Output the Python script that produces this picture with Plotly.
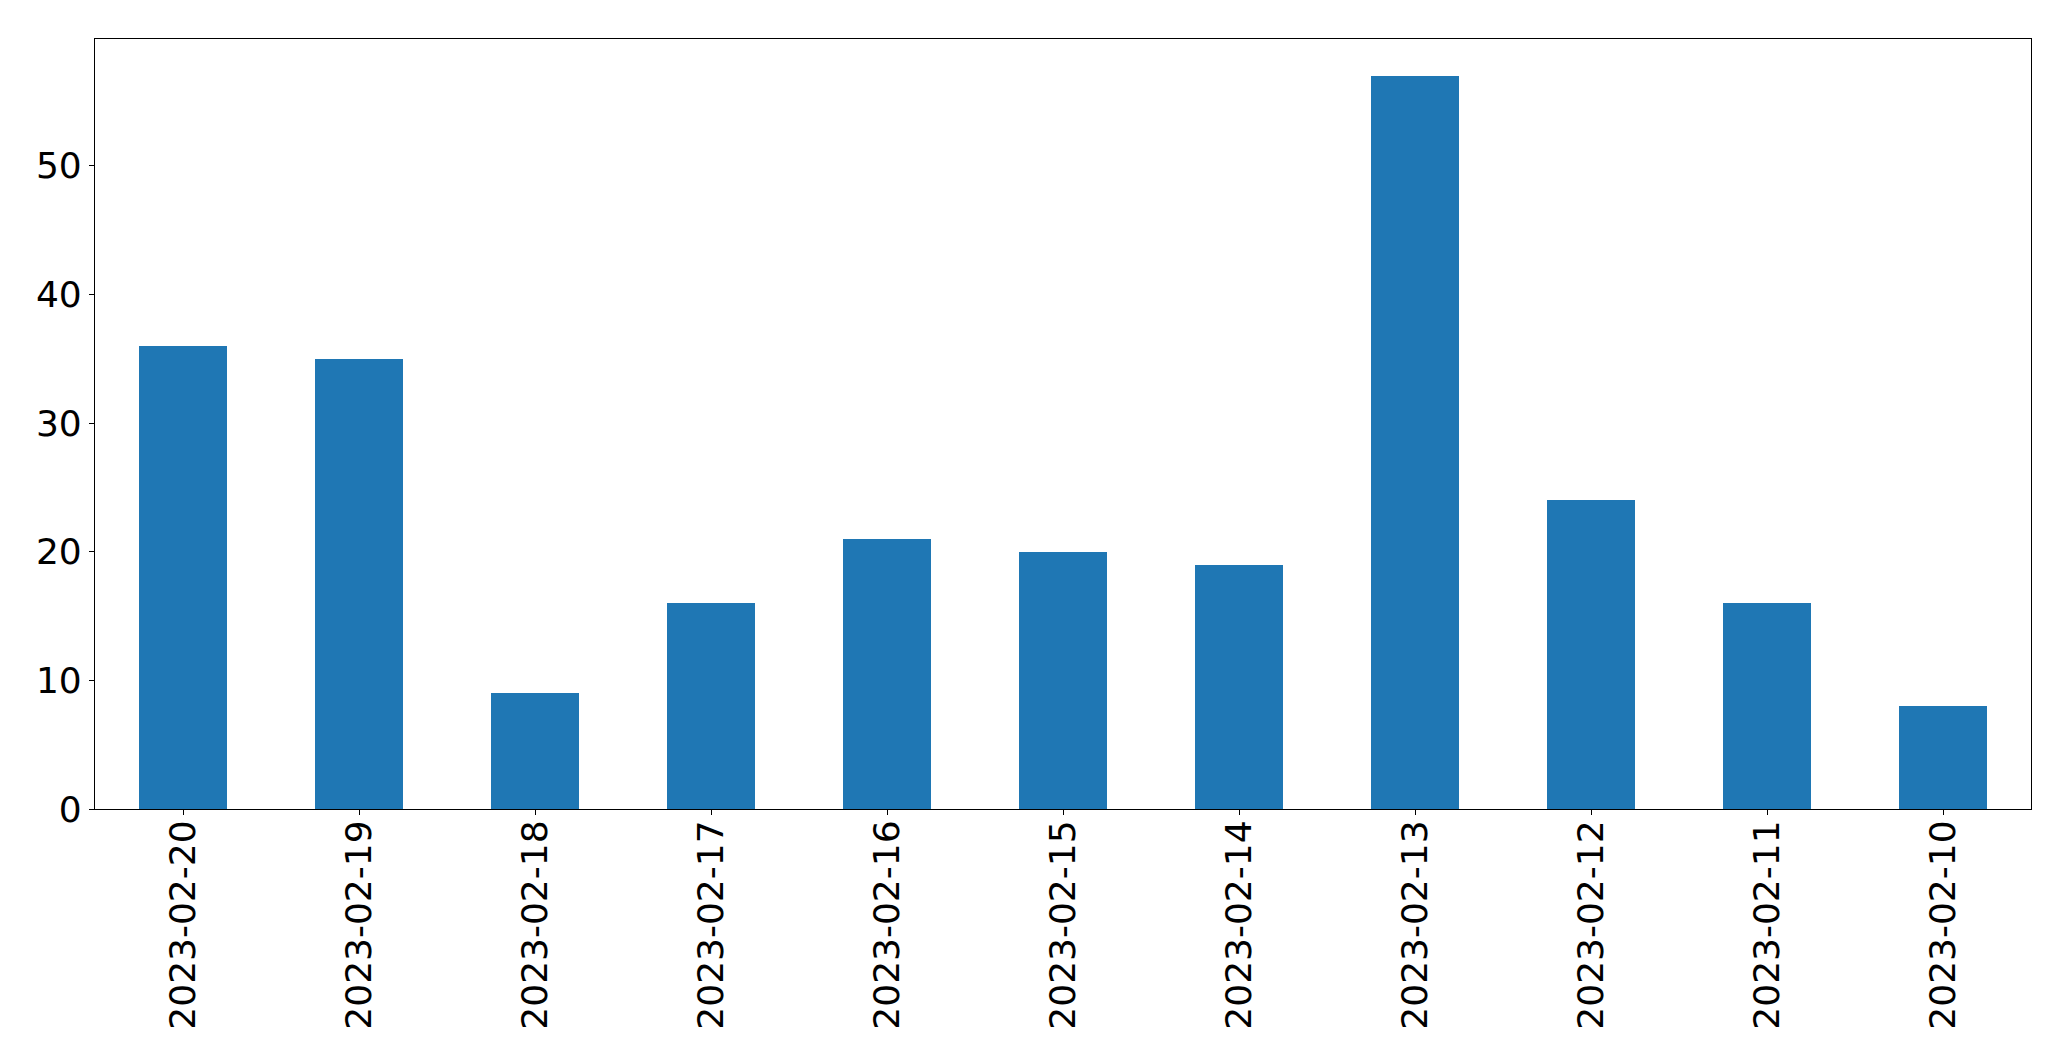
import plotly.graph_objects as go

dates = ["2023-02-20", "2023-02-19", "2023-02-18", "2023-02-17", "2023-02-16",
         "2023-02-15", "2023-02-14", "2023-02-13", "2023-02-12", "2023-02-11",
         "2023-02-10"]
counts = [36, 35, 9, 16, 21, 20, 19, 57, 24, 16, 8]
y_ticks = [0, 10, 20, 30, 40, 50]

fig = go.Figure(go.Bar(x=dates, y=counts, width=0.5, marker_color="#1f77b4",
                       marker_line_width=0))

fig.update_layout(
    width=2063, height=1053,
    margin=dict(l=87, r=40, t=31, b=252, pad=0),
    paper_bgcolor="white", plot_bgcolor="white",
    font=dict(family="DejaVu Sans", size=36, color="black"),
    showlegend=False,
    bargap=0,
)
fig.update_xaxes(
    type="category", range=[-0.5, len(dates) - 0.5],
    tickangle=-90, ticks="outside", ticklen=5, tickwidth=1.1, tickcolor="black",
    ticklabelstandoff=-9,
    showline=True, linecolor="black", linewidth=1.1, mirror=True,
    showgrid=False, zeroline=False,
)
fig.update_yaxes(
    range=[0, max(counts) * 1.05], tickvals=y_ticks,
    ticks="outside", ticklen=5, tickwidth=1.1, tickcolor="black",
    showline=True, linecolor="black", linewidth=1.1, mirror=True,
    showgrid=False, zeroline=False,
)

fig.write_html("out.html")
